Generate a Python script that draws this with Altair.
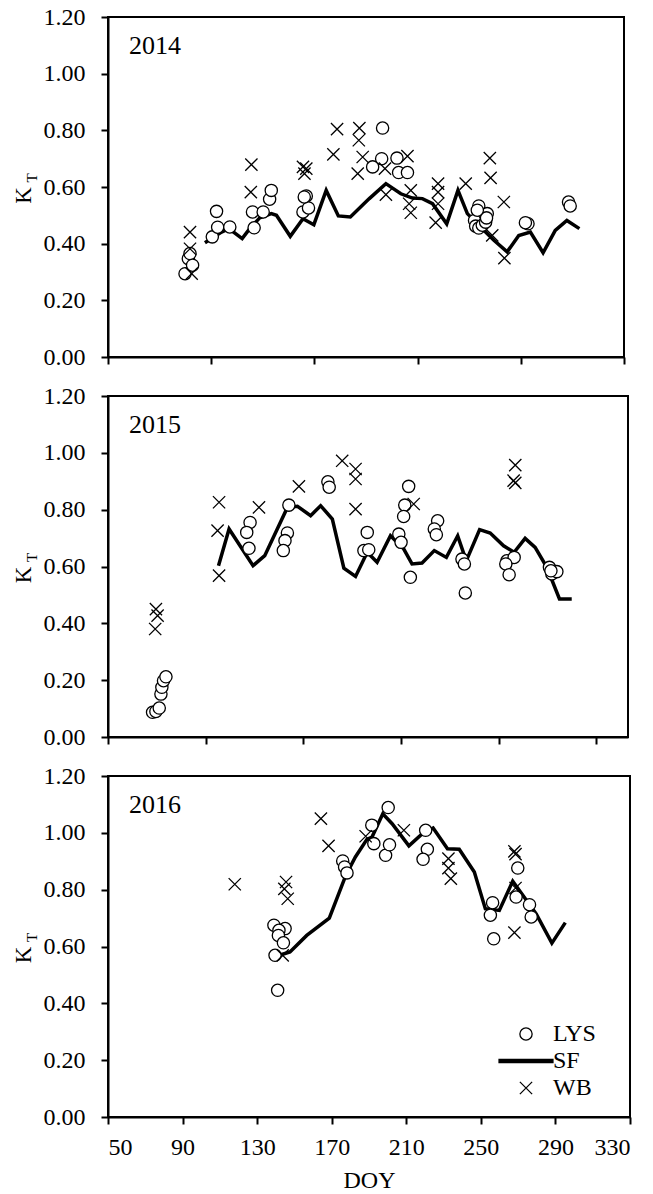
import altair as alt
import pandas as pd

FONT = "Liberation Serif"

# ---------------- 2014 ----------------
lys14_doy = [91.8, 93.6, 94.5, 95.9, 106.6, 108.9, 109.5, 116.1, 129.3, 128.4, 134.2, 137.7,
             138.6, 155.8, 157.6, 158.8, 156.5, 193.6, 199.0, 198.5, 206.8, 207.7, 212.5,
             251.2, 255.8, 248.9, 249.5, 251.2, 253.1, 254.9, 255.4, 250.4, 277.9, 276.5,
             299.9, 300.8]
lys14_kt = [0.294, 0.347, 0.365, 0.324, 0.424, 0.514, 0.458, 0.459, 0.456, 0.512, 0.512, 0.557,
            0.588, 0.512, 0.568, 0.526, 0.565, 0.671, 0.808, 0.700, 0.702, 0.651, 0.651,
            0.533, 0.506, 0.482, 0.462, 0.455, 0.465, 0.476, 0.491, 0.518, 0.470, 0.474,
            0.547, 0.533]
wb14_doy = [94.5, 94.5, 95.4, 127.8, 127.5, 155.8, 157.6, 156.6, 174.3, 172.3, 186.4, 186.1,
            188.2, 185.5, 200.3, 200.8, 212.5, 214.3, 213.4, 214.3, 229.1, 229.1, 229.1,
            227.8, 244.1, 257.2, 257.6, 264.8, 258.5, 265.1]
wb14_kt = [0.441, 0.382, 0.294, 0.679, 0.582, 0.671, 0.665, 0.647, 0.804, 0.715, 0.808, 0.765,
           0.706, 0.647, 0.665, 0.573, 0.709, 0.588, 0.541, 0.509, 0.612, 0.582, 0.541,
           0.474, 0.612, 0.702, 0.632, 0.547, 0.429, 0.349]
sf14_doy = [102.6, 111.6, 115.6, 122.8, 126.9, 132.3, 138.6, 141.4, 148.9, 155.8, 161.7, 168.4,
            175.0, 181.5, 191.8, 200.8, 208.9, 215.2, 220.6, 226.1, 233.8, 239.9, 245.0,
            253.1, 259.4, 266.6, 272.9, 279.2, 286.1, 292.7, 299.0, 305.8]
sf14_kt = [0.403, 0.441, 0.453, 0.418, 0.453, 0.491, 0.506, 0.500, 0.426, 0.488, 0.467, 0.588,
           0.498, 0.494, 0.559, 0.612, 0.576, 0.561, 0.559, 0.541, 0.470, 0.588, 0.506,
           0.453, 0.412, 0.371, 0.429, 0.441, 0.368, 0.447, 0.482, 0.453]

# ---------------- 2015 ----------------
lys15_doy = [74.0, 75.8, 77.6, 78.5, 79.0, 79.9, 81.2, 126.5, 124.7, 125.9, 147.4, 146.6, 145.3,
             144.4, 168.4, 169.1, 189.6, 187.8, 190.4, 211.9, 209.8, 209.2, 206.6, 207.8,
             212.8, 227.5, 225.7, 226.8, 240.6, 241.9, 242.4, 264.8, 268.7, 264.2, 266.0,
             287.7, 289.0, 291.7, 288.5]
lys15_kt = [0.087, 0.090, 0.102, 0.151, 0.175, 0.198, 0.212, 0.755, 0.720, 0.664, 0.816, 0.718,
            0.691, 0.656, 0.898, 0.879, 0.720, 0.656, 0.659, 0.882, 0.816, 0.776, 0.714, 0.685,
            0.562, 0.761, 0.732, 0.712, 0.626, 0.609, 0.507, 0.620, 0.632, 0.609, 0.571,
            0.597, 0.574, 0.582, 0.585]
wb15_doy = [75.8, 76.7, 75.4, 109.8, 109.0, 109.8, 131.3, 152.8, 176.1, 183.3, 183.3, 183.3,
            214.6, 269.3, 268.4, 269.3]
wb15_kt = [0.450, 0.427, 0.380, 0.826, 0.726, 0.568, 0.808, 0.882, 0.972, 0.943, 0.908, 0.802,
           0.820, 0.957, 0.902, 0.894]
sf15_doy = [109.5, 115.2, 128.1, 134.4, 146.6, 152.0, 159.1, 164.5, 170.8, 177.0, 183.3, 189.6,
            194.9, 202.1, 209.2, 213.7, 219.1, 225.7, 232.2, 238.3, 242.9, 250.1, 255.8,
            263.0, 268.7, 274.6, 280.0, 286.3, 293.1, 299.7]
sf15_kt = [0.603, 0.732, 0.603, 0.638, 0.808, 0.812, 0.779, 0.814, 0.767, 0.594, 0.565, 0.650,
           0.615, 0.708, 0.662, 0.609, 0.612, 0.656, 0.632, 0.708, 0.620, 0.730, 0.718,
           0.673, 0.650, 0.699, 0.667, 0.597, 0.486, 0.486]

# ---------------- 2016 ----------------
lys16_doy = [139.0, 145.0, 141.7, 141.4, 144.1, 139.6, 141.0, 175.9, 176.9, 178.2, 191.5, 192.6,
             200.3, 198.9, 201.0, 220.4, 221.3, 219.0, 256.3, 255.1, 256.9, 269.8, 268.9,
             276.1, 277.0]
lys16_kt = [0.675, 0.663, 0.657, 0.639, 0.613, 0.569, 0.446, 0.901, 0.880, 0.859, 1.027, 0.962,
            1.089, 0.921, 0.958, 1.009, 0.942, 0.907, 0.754, 0.710, 0.627, 0.876, 0.774,
            0.747, 0.704]
wb16_doy = [118.0, 145.5, 144.6, 146.4, 143.7, 164.2, 168.3, 188.2, 208.7, 232.6, 232.6, 233.9,
            268.0, 268.6, 268.6, 268.0]
wb16_kt = [0.819, 0.827, 0.803, 0.768, 0.569, 1.050, 0.954, 0.988, 1.009, 0.909, 0.876, 0.839,
           0.935, 0.925, 0.806, 0.649]
sf16_doy = [142.8, 147.6, 156.6, 168.7, 177.6, 182.7, 188.9, 191.6, 197.4, 202.4, 211.4, 218.6,
            224.4, 232.1, 238.4, 246.5, 252.4, 259.9, 267.1, 279.7, 288.1, 295.3]
sf16_kt = [0.571, 0.581, 0.639, 0.700, 0.851, 0.915, 0.977, 0.985, 1.067, 1.032, 0.954, 0.997,
           1.017, 0.944, 0.942, 0.862, 0.733, 0.727, 0.830, 0.715, 0.612, 0.684]

series_names = ["LYS", "SF", "WB"]
y_ticks = [0.0, 0.2, 0.4, 0.6, 0.8, 1.0, 1.2]
x_ticks_2014 = [50, 106, 162, 218, 274, 330]
x_ticks_2015 = [50, 102.6, 155.2, 207.8, 260.4, 313]
x_ticks_2016 = [50, 90, 130, 170, 210, 250, 290, 330]

SHAPES = ["circle", "M-4.4,-0.28L4.4,-0.28L4.4,0.28L-4.4,0.28Z", "M-1,-1L1,1M-1,1L1,-1"]
FILLS = ["white", "black", "white"]
STROKES = ["black", "black", "black"]


def panel(year, lys_d, lys_k, sf_d, sf_k, wb_d, wb_k, xticks, bottom, w, h):
    pts = pd.DataFrame({
        "series": ["LYS"] * len(lys_d) + ["WB"] * len(wb_d),
        "doy": lys_d + wb_d,
        "kt": lys_k + wb_k,
    })
    line = pd.DataFrame({"doy": sf_d, "kt": sf_k})

    xaxis_kw = dict(values=xticks, labels=bottom, tickSize=7, tickWidth=2,
                    domainWidth=2, domainColor="black", tickColor="black",
                    labelFont=FONT, labelFontSize=24, labelColor="black",
                    labelPadding=11, grid=False)
    if bottom:
        xaxis_kw.update(title="DOY", titleFont=FONT, titleFontSize=24,
                        titleFontWeight="normal", titleColor="black", titlePadding=9)
    else:
        xaxis_kw.update(title=None)
    xenc = alt.X("doy:Q", scale=alt.Scale(domain=[50, 330], nice=False, zero=False),
                 axis=alt.Axis(**xaxis_kw))
    yenc = alt.Y("kt:Q", scale=alt.Scale(domain=[0, 1.2], nice=False, zero=True),
                 axis=alt.Axis(values=y_ticks, format=".2f", tickSize=7, tickWidth=2,
                               domainWidth=2, domainColor="black", tickColor="black",
                               labelFont=FONT, labelFontSize=24, labelColor="black",
                               labelPadding=16, grid=False,
                               title="K", titleFont=FONT, titleFontSize=23,
                               titleFontWeight="normal", titleColor="black",
                               titleAngle=270, titleAlign="center",
                               titleBaseline="alphabetic", titleX=-78, titleY=h / 2 + 8))

    line_layer = alt.Chart(line).mark_line(color="black", strokeWidth=3.5).encode(x=xenc, y=yenc)

    if bottom:
        leg = alt.Legend(title=None, orient="none", legendX=406, legendY=246,
                         labelFont=FONT, labelFontSize=24, labelColor="black",
                         labelOffset=15, rowPadding=3, padding=0, symbolSize=150,
                         symbolStrokeWidth=1.3, symbolOpacity=1)
    else:
        leg = None
    shape_enc = alt.Shape("series:N", scale=alt.Scale(domain=series_names, range=SHAPES),
                          legend=leg)
    fill_enc = alt.Fill("series:N", scale=alt.Scale(domain=series_names, range=FILLS),
                        legend=leg)
    stroke_enc = alt.Stroke("series:N", scale=alt.Scale(domain=series_names, range=STROKES),
                            legend=leg)
    pt_layer = alt.Chart(pts).mark_point(filled=True, strokeWidth=1.3,
                                         size=150, opacity=1).encode(
        x=xenc, y=yenc, shape=shape_enc, fill=fill_enc, stroke=stroke_enc)

    year_txt = alt.Chart(pd.DataFrame({"label": [year]})).mark_text(
        font=FONT, fontSize=26, align="left", baseline="alphabetic", color="black"
    ).encode(text="label:N", x=alt.value(21), y=alt.value(37))

    sub_txt = alt.Chart(pd.DataFrame({"label": ["T"]})).mark_text(
        font=FONT, fontSize=15, align="center", baseline="alphabetic", color="black",
        angle=270
    ).encode(text="label:N", x=alt.value(-71), y=alt.value(h / 2 - 9))

    return alt.layer(line_layer, pt_layer, year_txt, sub_txt).properties(width=w, height=h)


p1 = panel("2014", lys14_doy, lys14_kt, sf14_doy, sf14_kt, wb14_doy, wb14_kt,
           x_ticks_2014, False, 516, 340)
p2 = panel("2015", lys15_doy, lys15_kt, sf15_doy, sf15_kt, wb15_doy, wb15_kt,
           x_ticks_2015, False, 520, 341)
p3 = panel("2016", lys16_doy, lys16_kt, sf16_doy, sf16_kt, wb16_doy, wb16_kt,
           x_ticks_2016, True, 522, 341)

chart = alt.vconcat(p1, p2, p3, spacing=39, bounds="flush").resolve_scale(
    shape="independent", fill="independent", stroke="independent"
).properties(
    padding={"left": 3, "top": -4, "right": 5, "bottom": 3}
).configure_view(stroke="black", strokeWidth=2)

chart.save("out.html", embed_options={"renderer": "svg", "actions": False})
